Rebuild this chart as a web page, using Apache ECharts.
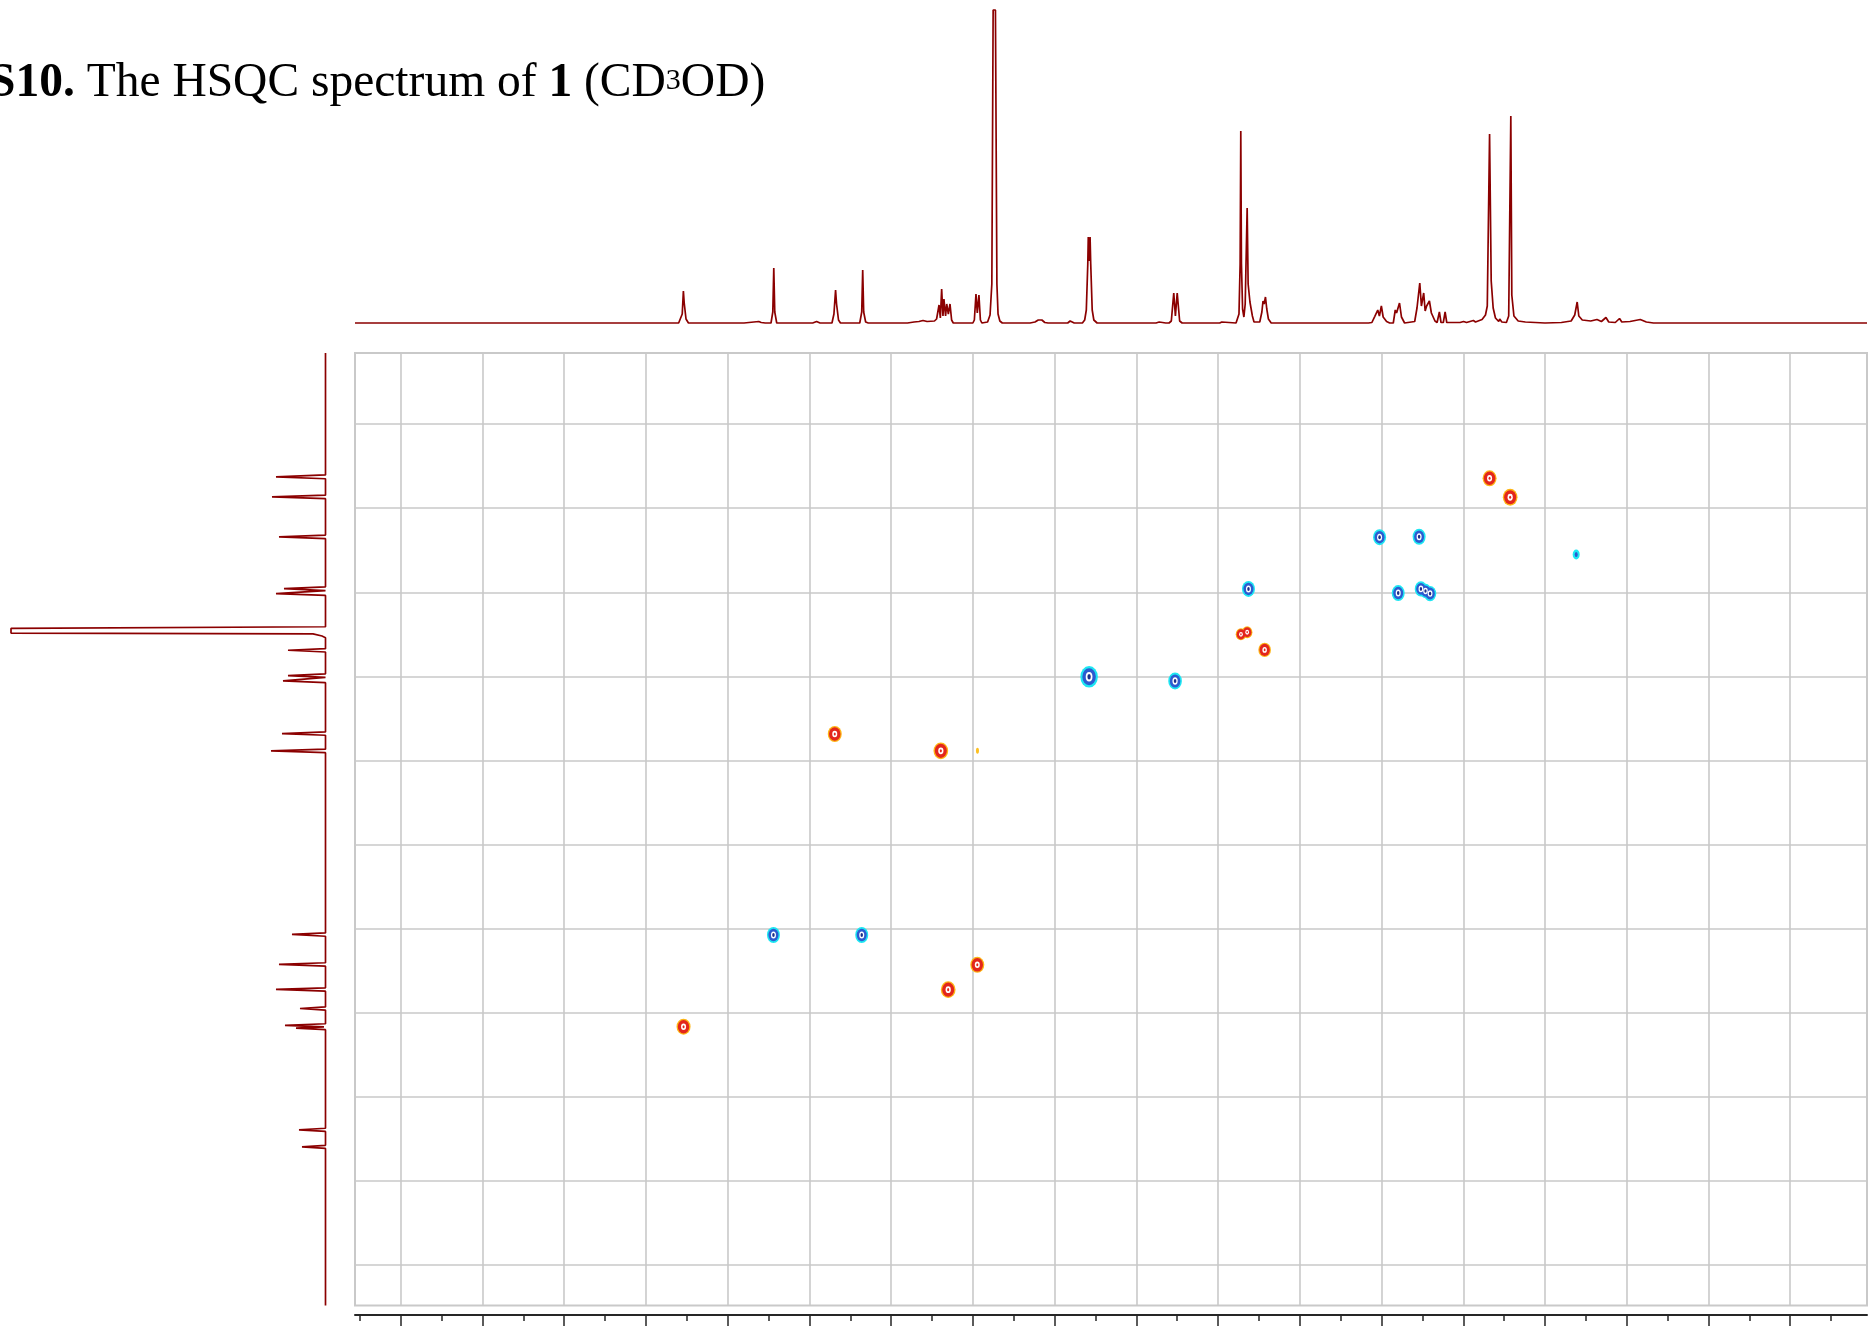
<!DOCTYPE html>
<html><head><meta charset="utf-8">
<script src="https://cdn.jsdelivr.net/npm/echarts@6/dist/echarts.min.js"></script>
<style>html,body{margin:0;padding:0;background:#fff}#c{width:1869px;height:1328px}</style>
</head><body><div id="c"></div>
<script>
// ---- axis ranges (ppm) ----
const protonRange = [-0.47, 8.78];   // 1H, drawn high -> low (left -> right)
const carbonRange = [-16.9, 209.6];  // 13C, drawn low -> high (top -> bottom)

// ---- grid lines and ruler ticks ----
const protonGridLines = [8.5, 8.0, 7.5, 7.0, 6.5, 6.0, 5.5, 5.0, 4.5, 4.0, 3.5, 3.0, 2.5, 2.0, 1.5, 1.0, 0.5, 0.0];
const carbonGridLines = [0, 20, 40, 60, 80, 100, 120, 140, 160, 180, 200];
const protonMajorTicks = [8.5, 8.0, 7.5, 7.0, 6.5, 6.0, 5.5, 5.0, 4.5, 4.0, 3.5, 3.0, 2.5, 2.0, 1.5, 1.0, 0.5, 0.0];
const protonMinorTicks = [8.75, 8.25, 7.75, 7.25, 6.75, 6.25, 5.75, 5.25, 4.75, 4.25, 3.75, 3.25, 2.75, 2.25, 1.75, 1.25, 0.75, 0.25, -0.25];

// ---- 1H projection trace: [ppm, intensity] ----
const protonTrace = [
  [8.78,1],[7.2,1],[6.95,1],[6.80,1],
  [6.79,1],[6.778,10],[6.771,33],[6.766,21],[6.762,19],[6.755,5],[6.74,1],
  [6.40,1],[6.31,2.5],[6.295,1.5],[6.27,1],
  [6.235,1],[6.224,12],[6.218,56],[6.212,12],[6.20,1],
  [6.15,1],[6.139,2],[6.125,1],
  [5.98,1],[5.956,2.5],[5.935,1],
  [5.862,1],[5.850,10],[5.840,34],[5.834,20],[5.822,4],[5.81,1],
  [5.692,1],[5.680,12],[5.674,54],[5.668,12],[5.656,2],[5.64,1],
  [5.61,1],[5.599,2.5],[5.585,1],
  [5.40,1],[5.36,2],[5.33,2.5],[5.305,3.5],[5.28,2.5],[5.235,3],
  [5.222,5],[5.207,19],[5.199,6],[5.191,35],[5.183,8],[5.177,25],[5.167,8],[5.160,20],[5.150,10],[5.140,20],[5.130,4],[5.12,1],
  [5.00,1],[4.991,4],[4.981,30],[4.973,11],[4.963,29],[4.954,4],[4.945,1],
  [4.91,2],[4.895,9],[4.884,40],[4.876,314],[4.862,314],[4.853,40],[4.846,10],[4.835,3],[4.82,1],
  [4.65,1],[4.62,2],[4.600,4],[4.589,5],[4.578,4],[4.56,1.5],[4.54,1],
  [4.42,1],[4.405,3],[4.395,3],[4.38,1],
  [4.33,1],[4.316,4],[4.306,14],[4.297,60],[4.294,87],[4.2885,63],[4.283,87],[4.279,60],[4.270,14],[4.26,4],[4.24,1],
  [3.88,1],[3.86,2],[3.84,1.5],[3.82,1],
  [3.80,1],[3.786,3],[3.771,31],[3.761,8],[3.750,31],[3.735,3],[3.72,1],
  [3.67,1],[3.661,2],[3.65,1],[3.49,1],[3.477,2],[3.465,1],
  [3.39,1],[3.372,10],[3.365,60],[3.361,193],[3.357,60],[3.350,15],[3.342,7],[3.334,20],[3.322,116],[3.316,40],[3.305,22],[3.298,22],[3.290,8],[3.28,2],
  [3.245,2],[3.232,12],[3.225,23],[3.218,20],[3.210,27],[3.202,15],[3.192,5],[3.175,1],
  [2.58,1],[2.559,1.5],[2.541,7.7],[2.523,14],[2.513,8],[2.501,18],[2.49,7],[2.482,6],[2.469,2.5],[2.45,1],
  [2.428,1],[2.416,14],[2.408,11],[2.390,21],[2.378,7],[2.359,1],
  [2.297,2.5],[2.283,16],[2.266,41],[2.256,18],[2.242,31],[2.233,13],[2.224,18],[2.207,23],[2.195,11],[2.184,11],[2.173,3],[2.16,1.5],
  [2.146,12],[2.136,1.5],[2.122,1.5],[2.111,12],[2.101,1.5],
  [2.02,1.5],[1.998,2.5],[1.98,1.5],[1.938,3.5],[1.925,2],[1.885,4.5],[1.864,9],[1.853,18],[1.839,190],[1.829,43],[1.817,16],[1.803,6],
  [1.783,2.5],[1.777,5],[1.764,2],[1.736,1.5],[1.722,8],[1.709,208],[1.703,29],[1.690,8],[1.664,3],[1.62,2],[1.50,1],
  [1.40,1.5],[1.34,3],[1.318,9],[1.303,22],[1.293,8],[1.272,4],[1.22,3],[1.182,4.5],[1.155,2.5],[1.127,6.5],[1.11,2],
  [1.07,1.5],[1.044,5.5],[1.03,2],[0.98,2.5],[0.917,4.5],[0.88,2],[0.836,1],[-0.47,1]
];

// ---- 13C projection trace: [ppm, intensity] ----
const carbonTrace = [
  [-16.9,0.5],[12.1,0.5],[12.58,50],[13.0,0.5],
  [16.9,0.5],[17.33,54],[17.75,0.5],
  [26.4,0.5],[26.84,47],[27.25,0.5],
  [38.7,0.5],[39.11,42],[39.6,0.5],[39.85,0.5],[40.30,50],[40.75,0.5],
  [48.2,0.5],[48.6,315],[49.7,315],[49.9,13],[50.4,4],[50.8,0.5],
  [53.4,0.5],[53.78,38],[54.2,0.5],
  [59.4,0.5],[59.80,38],[60.25,0.5],[60.65,0.5],[61.08,43],[61.5,0.5],
  [73.2,0.5],[73.59,44],[74.0,0.5],
  [77.3,0.5],[77.72,55],[78.15,0.5],
  [121.0,0.5],[121.37,34],[121.8,0.5],
  [128.1,0.5],[128.5,47],[128.9,0.5],
  [134.05,0.5],[134.45,50],[134.85,0.5],
  [138.6,0.5],[138.97,26],[139.35,0.5],
  [142.6,0.5],[143.01,41],[143.33,2],[143.65,30],[144.0,0.5],
  [167.45,0.5],[167.83,27],[168.2,0.5],
  [171.5,0.5],[171.87,24],[172.25,0.5],
  [209.6,0.5]
];

// ---- HSQC cross peaks: [1H ppm, 13C ppm, relative intensity] ----
const positivePeaks = [
  [6.770,143.3,1.0],[5.151,134.5,1.05],[4.973,128.6,1.0],[5.845,73.7,1.0],[5.196,77.7,1.05],
  [1.839,12.9,1.0],[1.713,17.4,1.05],[3.360,50.0,0.75],[3.322,49.5,0.75],[3.215,53.7,0.9]
];
const negativePeaks = [
  [6.220,121.5,1.0],[5.680,121.5,1.0],[4.289,60.1,1.35],[3.763,61.1,1.05],[2.512,26.9,1.0],
  [2.270,26.8,1.0],[3.314,39.2,1.0],[2.398,40.2,1.0],[2.259,39.2,0.95],[2.231,39.7,0.9],[2.203,40.3,0.95]
];
const weakPositivePeaks = [[4.972,77.7,1.0]];
const weakNegativePeaks = [[1.309,31.0,1.0]];

// ---- styling / layout ----
const ELLIPSE = 'path://M0,50 A50,50 0 1,1 100,50 A50,50 0 1,1 0,50 Z';
const GRID_COLOR = '#c9c9c9';
const TRACE_COLOR = '#8B0000';
const PLOT = {left: 355, top: 353, width: 1512, height: 952.5};

function peakLayer(data, color, w, h, z) {
  return {
    type: 'scatter', xAxisIndex: 0, yAxisIndex: 0, data: data,
    symbol: ELLIPSE,
    symbolSize: function (v) { return [w * v[2], h * v[2]]; },
    itemStyle: {color: color, opacity: 1},
    z: z, silent: true, animation: false
  };
}

const chart = echarts.init(document.getElementById('c'), null, {renderer: 'canvas'});

const option = {
  backgroundColor: '#ffffff',
  animation: false,
  graphic: [{
    type: 'text', x: -11, y: 56, silent: true,
    style: {
      text: '{b|S10.}{r| The HSQC spectrum of }{b|1}{r| (CD}{s|3}{r|OD)}',
      fill: '#000',
      fontFamily: 'Liberation Serif', fontSize: 47.5,
      rich: {
        b: {fontFamily: 'Liberation Serif', fontSize: 47.5, fontWeight: 'bold', lineHeight: 56, fill: '#000'},
        r: {fontFamily: 'Liberation Serif', fontSize: 47.5, lineHeight: 56, fill: '#000'},
        s: {fontFamily: 'Liberation Serif', fontSize: 30, padding: [0, 0, 5, 0], fill: '#000'}
      }
    }
  }],
  grid: [
    {left: PLOT.left, top: PLOT.top, width: PLOT.width, height: PLOT.height, show: true,
     borderColor: GRID_COLOR, borderWidth: 2, backgroundColor: 'transparent'},
    {left: PLOT.left, top: 0, width: PLOT.width, height: 324},
    {left: 0, top: PLOT.top, width: 326, height: PLOT.height},
    {left: PLOT.left, top: 1314, width: PLOT.width, height: 1}
  ],
  xAxis: [
    {gridIndex: 0, type: 'value', min: protonRange[0], max: protonRange[1], inverse: true, show: false},
    {gridIndex: 1, type: 'value', min: protonRange[0], max: protonRange[1], inverse: true, show: false},
    {gridIndex: 2, type: 'value', min: 0, max: 326, inverse: true, show: false},
    {gridIndex: 3, type: 'value', min: protonRange[0], max: protonRange[1], inverse: true, position: 'bottom',
     axisLine: {show: true, lineStyle: {color: '#262626', width: 2}},
     axisTick: {show: true, customValues: protonMajorTicks, length: 11, lineStyle: {color: '#262626', width: 1.5}},
     axisLabel: {show: false}, splitLine: {show: false}},
    {gridIndex: 3, type: 'value', min: protonRange[0], max: protonRange[1], inverse: true, position: 'bottom',
     axisLine: {show: false},
     axisTick: {show: true, customValues: protonMinorTicks, length: 6, lineStyle: {color: '#262626', width: 1.5}},
     axisLabel: {show: false}, splitLine: {show: false}}
  ],
  yAxis: [
    {gridIndex: 0, type: 'value', min: carbonRange[0], max: carbonRange[1], inverse: true, show: false},
    {gridIndex: 1, type: 'value', min: 0, max: 324, show: false},
    {gridIndex: 2, type: 'value', min: carbonRange[0], max: carbonRange[1], inverse: true, show: false},
    {gridIndex: 3, type: 'value', min: 0, max: 1, show: false}
  ],
  series: [
    {
      type: 'line', xAxisIndex: 0, yAxisIndex: 0, data: [], silent: true, animation: false,
      markLine: {
        silent: true, animation: false, symbol: ['none', 'none'],
        label: {show: false}, emphasis: {disabled: true},
        lineStyle: {color: GRID_COLOR, width: 1.6, type: 'solid'},
        data: protonGridLines.map(v => ({xAxis: v})).concat(carbonGridLines.map(v => ({yAxis: v})))
      }
    },
    {type: 'line', xAxisIndex: 1, yAxisIndex: 1, data: protonTrace, showSymbol: false, symbol: 'none',
     lineStyle: {color: TRACE_COLOR, width: 1.7}, silent: true, animation: false},
    {type: 'line', xAxisIndex: 2, yAxisIndex: 2, data: carbonTrace.map(p => [p[1], p[0]]), showSymbol: false, symbol: 'none',
     lineStyle: {color: TRACE_COLOR, width: 1.7}, silent: true, animation: false},
    // positive (CH / CH3) contours
    peakLayer(positivePeaks, '#FDB515', 14, 16, 10),
    peakLayer(positivePeaks, '#E3261C', 11.5, 13.5, 11),
    peakLayer(positivePeaks, '#FFFFFF', 5, 6.5, 12),
    peakLayer(positivePeaks, '#E3261C', 2, 3, 13),
    peakLayer(weakPositivePeaks, '#FDC020', 3, 6, 10),
    // negative (CH2) contours
    peakLayer(negativePeaks, '#1DE6F2', 13, 16, 10),
    peakLayer(negativePeaks, '#2C5BD0', 10, 12.5, 11),
    peakLayer(negativePeaks, '#FFFFFF', 5, 7, 12),
    peakLayer(negativePeaks, '#1B2F8A', 2.5, 4, 13),
    peakLayer(weakNegativePeaks, '#1DE6F2', 7, 10, 10),
    peakLayer(weakNegativePeaks, '#2C5BD0', 3, 5, 11)
  ]
};
chart.setOption(option);
</script>
</body></html>
